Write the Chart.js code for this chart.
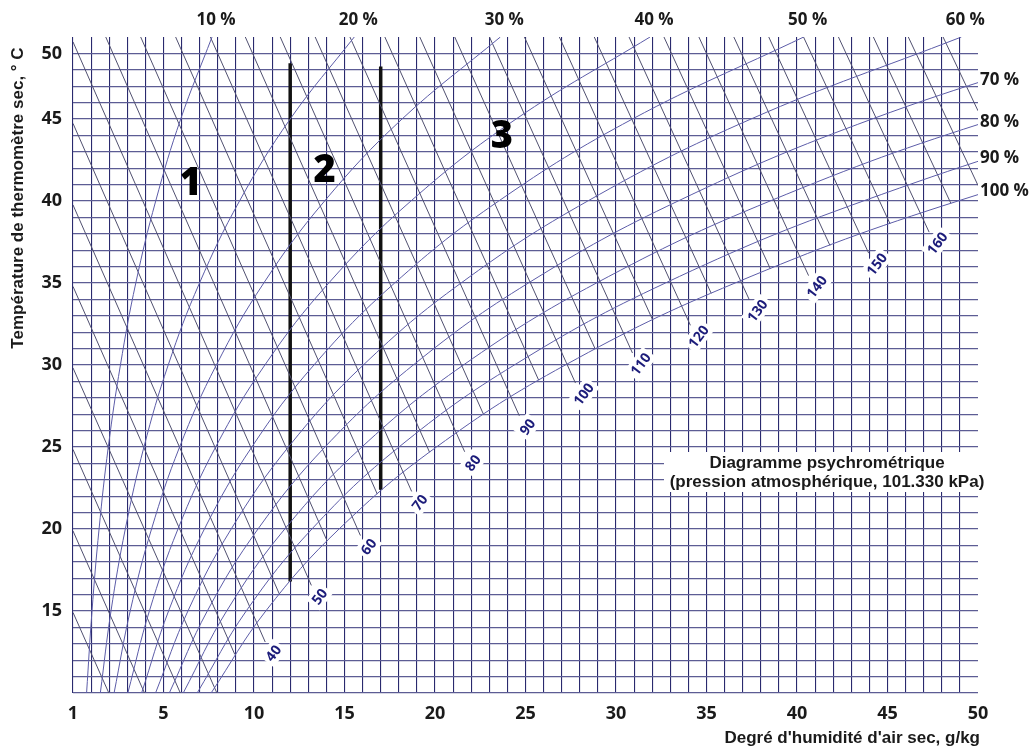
<!DOCTYPE html>
<html>
<head>
<meta charset="utf-8">
<script src="https://cdn.jsdelivr.net/npm/chart.js@4"></script>
<style>
  body { margin: 0; background: #fff; }
  canvas { display: block; }
</style>
</head>
<body>
<canvas id="psychro" width="1036" height="753" style="width:1036px;height:753px"></canvas>
<script>
// relative humidity curves: humidity (g/kg) read at each temperature
const rhLabels = ['10 %', '20 %', '30 %', '40 %', '50 %', '60 %', '70 %', '80 %', '90 %', '100 %'];
const rhTemps = [10, 15, 20, 25, 30, 35, 40, 45, 50];
const rh10 = [0.75, 1.05, 1.44, 1.95, 2.62, 3.47, 4.57, 5.95, 7.68];
const rh20 = [1.51, 2.10, 2.89, 3.92, 5.26, 6.99, 9.20, 12.00, 15.54];
const rh30 = [2.27, 3.16, 4.34, 5.89, 7.92, 10.54, 13.90, 18.18, 23.61];
const rh40 = [3.03, 4.22, 5.80, 7.88, 10.60, 14.13, 18.67, 24.48, 31.88];
const rh50 = [3.79, 5.28, 7.26, 9.88, 13.31, 17.77, 23.52, 30.91, 40.37];
const rh60 = [4.56, 6.35, 8.74, 11.90, 16.04, 21.44, 28.44, 37.46, 49.08];
const rh70 = [5.32, 7.42, 10.22, 13.92, 18.80, 25.16, 33.43, 44.15, 58.00];
const rh80 = [6.09, 8.49, 11.70, 15.96, 21.57, 28.92, 38.51, 50.97, 67.20];
const rh90 = [6.86, 9.57, 13.20, 18.01, 24.38, 32.73, 43.66, 57.93, 76.65];
const rh100 = [7.63, 10.65, 14.70, 20.08, 27.20, 36.58, 48.89, 65.04, 86.30];
// temperature where 70..100 % leave the right edge
const rhRightT = [47.2, 44.65, 42.4, 40.4];

// enthalpy lines (kJ/kg): start and end points read on the chart
const enthalpyValues = [15, 20, 25, 30, 35, 40, 45, 50, 55, 60, 65, 70, 75, 80, 85, 90, 95, 100,
  105, 110, 115, 120, 125, 130, 135, 140, 145, 150, 155, 160, 165, 170, 175, 180];
const enthStartW = [0, 0, 0, 0, 0, 0, 0, 0, 1.81, 3.74, 5.67, 7.59, 9.52, 11.45, 13.38, 15.30, 17.23, 19.16,
  21.09, 23.01, 24.94, 26.87, 28.80, 30.72, 32.65, 34.58, 36.51, 38.44, 40.36, 42.29, 44.22, 46.15, 48.07, 50.0];
const enthStartT = [14.91, 19.88, 24.85, 29.82, 34.79, 39.76, 44.73, 49.70, 50, 50, 50, 50, 50, 50, 50, 50, 50, 50,
  50, 50, 50, 50, 50, 50, 50, 50, 50, 50, 50, 50, 50, 50, 50, 50];
const enthEndW = [1.98, 3.95, 5.93, 7.95, 8.94, 10.62, 11.40, 13.17, 14.04, 15.88, 16.81, 18.71, 19.70, 21.64,
  22.68, 24.66, 25.73, 27.76, 28.85, 30.91, 32.03, 34.11, 35.26, 37.36, 38.52, 40.64, 41.82, 43.96, 45.14,
  47.30, 48.50, 50, 50, 50];
const enthEndT = [10, 10, 10, 10, 12.35, 13.11, 16.04, 16.56, 19.27, 19.60, 22.13, 22.29, 24.68, 24.71,
  26.99, 26.90, 29.07, 28.90, 30.98, 30.73, 32.74, 32.42, 34.37, 33.99, 35.88, 35.45, 37.29, 36.82, 38.61,
  38.10, 39.86, 40.95, 45.5, 50];

// zone boundaries and zone names
const zoneLineW = [12, 17];
const zoneLineBottom = [16.8, 22.4];
const zoneLineTop = [48.4, 48.2];
const zoneNames = ['1', '2', '3'];
const zoneLabelW = [6.5, 13.9, 23.7];
const zoneLabelT = [41.0, 41.8, 43.9];

const rhSeries = [rh10, rh20, rh30, rh40, rh50, rh60, rh70, rh80, rh90, rh100];

const GRID_X = '#2a2a6e';
const GRID_Y = '#5c5c94';
const RH_COLOR = '#5c5ca8';
const ENTH_COLOR = '#505070';
const NAVY = '#1c1c7a';
const TEXT = '#1a1a1a';

let datasets = [];
rhSeries.forEach((s, i) => {
  datasets.push({
    label: rhLabels[i],
    data: s.map((w, j) => ({ x: w, y: rhTemps[j] })),
    borderColor: RH_COLOR,
    borderWidth: 1,
    tension: 0.4,
  });
});
enthalpyValues.forEach((h, i) => {
  datasets.push({
    label: 'h' + h,
    data: [{ x: enthStartW[i], y: enthStartT[i] }, { x: enthEndW[i], y: enthEndT[i] }],
    borderColor: ENTH_COLOR,
    borderWidth: 1,
  });
});
zoneLineW.forEach((w, i) => {
  datasets.push({
    label: 'zone' + i,
    data: [{ x: w, y: zoneLineBottom[i] }, { x: w, y: zoneLineTop[i] }],
    borderColor: '#111',
    borderWidth: 3.5,
  });
});

const overlay = {
  id: 'overlay',
  afterDatasetsDraw(chart) {
    const { ctx, scales: { x, y }, chartArea } = chart;
    ctx.save();

    // enthalpy labels
    ctx.font = 'bold 14px "Open Sans", sans-serif';
    ctx.textAlign = 'center';
    ctx.textBaseline = 'middle';
    enthalpyValues.forEach((h, i) => {
      if (h % 10 !== 0 || h < 40 || h > 160) return;
      const px = x.getPixelForValue(enthEndW[i]) + 8;
      const py = y.getPixelForValue(enthEndT[i]) + 11;
      const txt = String(h);
      ctx.save();
      ctx.translate(px, py);
      ctx.rotate(-0.92);
      const w = ctx.measureText(txt).width;
      ctx.fillStyle = '#fff';
      ctx.fillRect(-w / 2 - 3, -9, w + 6, 18);
      ctx.fillStyle = NAVY;
      ctx.fillText(txt, 0, 1);
      ctx.restore();
    });

    // zone numbers
    ctx.fillStyle = '#000';
    ctx.font = '800 38px "Open Sans", sans-serif';
    zoneNames.forEach((n, i) => {
      ctx.fillText(n, x.getPixelForValue(zoneLabelW[i]), y.getPixelForValue(zoneLabelT[i]));
    });

    // relative humidity labels, top and right
    ctx.fillStyle = TEXT;
    ctx.font = 'bold 17px "Open Sans", sans-serif';
    for (let i = 0; i < 6; i++) {
      const s = rhSeries[i];
      ctx.fillText(rhLabels[i], x.getPixelForValue(s[s.length - 1]) + 4, chartArea.top - 17);
    }
    ctx.textAlign = 'left';
    for (let i = 6; i < 10; i++) {
      ctx.fillText(rhLabels[i], chartArea.right + 2, y.getPixelForValue(rhRightT[i - 6]) - 3);
    }

    // title box
    ctx.fillStyle = '#fff';
    ctx.fillRect(664, 452, 326, 40);
    ctx.fillStyle = TEXT;
    ctx.textAlign = 'center';
    ctx.font = 'bold 17px "Liberation Sans", Arial, sans-serif';
    ctx.fillText('Diagramme psychrométrique', 827, 463);
    ctx.fillText('(pression atmosphérique, 101.330 kPa)', 827, 482);

    // axis titles
    ctx.font = 'bold 17px "Liberation Sans", Arial, sans-serif';
    ctx.textAlign = 'right';
    ctx.fillText("Degré d'humidité d'air sec, g/kg", 980, 738);
    ctx.save();
    ctx.translate(18, 198);
    ctx.rotate(-Math.PI / 2);
    ctx.textAlign = 'center';
    ctx.fillText('Température de thermomètre sec, ° C', 0, 0);
    ctx.restore();

    ctx.restore();
  }
};

const tickFont = { family: '"Open Sans", sans-serif', size: 18, weight: 'bold' };

new Chart(document.getElementById('psychro'), {
  type: 'scatter',
  data: { datasets },
  options: {
    responsive: false,
    animation: false,
    showLine: true,
    layout: { padding: { top: 37, right: 58, left: 0, bottom: 0 } },
    elements: { point: { radius: 0 } },
    plugins: { legend: { display: false }, tooltip: { enabled: false } },
    scales: {
      x: {
        type: 'linear',
        min: 0,
        max: 50,
        afterFit: (s) => { s.height = 60; },
        border: { display: false },
        grid: {
          drawTicks: false,
          lineWidth: 1.1,
          color: (c) => (c.tick && c.tick.value === 50 ? 'rgba(0,0,0,0)' : GRID_X),
        },
        ticks: {
          stepSize: 1,
          autoSkip: false,
          maxTicksLimit: 100,
          maxRotation: 0,
          padding: 10,
          color: TEXT,
          font: tickFont,
          callback: (v) => (v === 0 ? '1' : (v % 5 === 0 ? String(v) : '')),
        },
      },
      y: {
        type: 'linear',
        min: 10,
        max: 50,
        afterFit: (s) => { s.width = 73; },
        border: { display: false },
        grid: {
          drawTicks: false,
          lineWidth: 1.3,
          color: (c) => (c.tick && c.tick.value === 50 ? 'rgba(0,0,0,0)' : GRID_Y),
        },
        ticks: {
          stepSize: 1,
          autoSkip: false,
          maxTicksLimit: 100,
          padding: 11,
          color: TEXT,
          font: tickFont,
          callback: (v) => {
            if (v === 49) return '50';
            return v % 5 === 0 && v > 10 && v < 50 ? String(v) : '';
          },
        },
      },
    },
  },
  plugins: [overlay],
});
</script>
</body>
</html>
